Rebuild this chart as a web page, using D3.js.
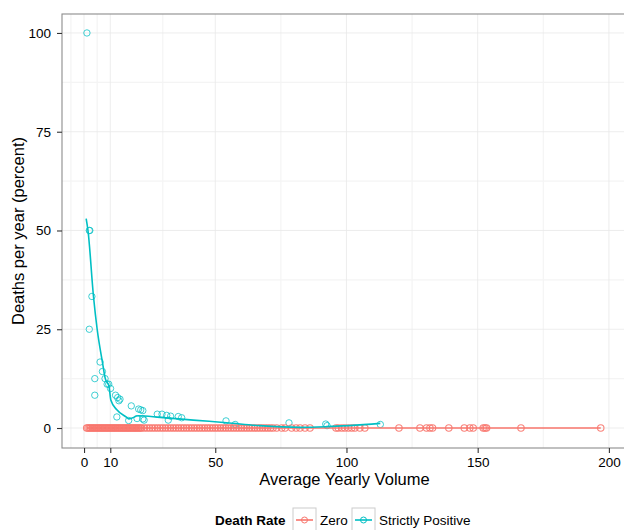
<!DOCTYPE html>
<html>
<head>
<meta charset="utf-8">
<script src="https://cdn.jsdelivr.net/npm/d3@7"></script>
<style>
  body { margin: 0; background: #fff; }
  svg { display: block; font-family: "Liberation Sans", Arial, sans-serif; }
</style>
</head>
<body>
<div id="chart"></div>
<script>
// data
var zeroVolume = [1, 1.5, 2, 2.5, 3, 3.5, 4, 4.5, 5, 5.5, 6, 6.5, 7, 7.5, 8, 8.5, 9, 9.5, 10, 10.5,
    11, 11.5, 12, 12.5, 13, 13.5, 14, 14.5, 15, 15.5, 16, 16.5, 17, 17.5, 18, 18.5, 19, 19.5, 20, 20.5,
    21, 21.5, 22, 23, 24, 25, 26, 27, 28, 29, 30, 31, 32, 33, 34, 35, 36, 37, 38, 39, 40, 41, 42, 43,
    44, 45, 46, 47, 48, 49, 50, 51, 52, 53, 54, 55, 56, 57, 58, 59, 60, 61, 62, 63, 64, 65, 66, 67, 68,
    69, 70, 71, 72, 73.4, 75.3, 76.6, 79.1, 80.8, 82.3, 84.2, 86.1, 96, 96.9, 98.2, 99.4, 100.7, 102,
    103.2, 105.1, 107, 120, 128, 130.5, 131.8, 132.8, 139, 144.9, 147, 148.3, 152.1, 152.8, 153.4,
    166.5, 196.9];
var zeroRate = zeroVolume.map(function () { return 0; });

var posVolume = [1.1, 2.2, 2.0, 3.0, 2.0, 6.1, 7.0, 4.1, 8.0, 8.8, 9.4, 10.1, 4.1, 12.0, 12.8, 13.3, 13.7,
    12.5, 18.0, 17.0, 20.8, 21.6, 22.4, 20.2, 22.4, 22.9, 27.9, 29.7, 32.1, 31.5, 33.0, 35.9, 37.2, 54.1,
    57.6, 78.1, 92.1, 92.6, 112.9];
var posRate = [100, 50, 50, 33.3, 25, 16.7, 14.3, 12.5, 12.5, 11.1, 11.1, 10, 8.3, 8.3, 7.7, 6.9, 7.3,
    2.8, 5.6, 1.9, 4.8, 4.6, 4.4, 2.4, 2.3, 2.0, 3.5, 3.5, 2.0, 3.2, 3.0, 2.9, 2.6, 1.8,
    0.9, 1.3, 1.0, 0.6, 0.9];

var posSmoothX = [0.8, 1.5, 3.6, 5.0, 7.0, 8.1, 9.5, 10.2, 12.5, 16.3, 17.1, 20.7, 29, 41.6, 54.3, 67, 82.3, 92.4, 112.9];
var posSmoothY = [53, 50, 33.3, 25, 16.7, 12.5, 10.6, 7.1, 4.6, 2.7, 2.3, 3.1, 2.7, 2.0, 1.35, 0.6, 0.17, 0.34, 1.18];

var xTicks = [0, 10, 50, 100, 150, 200];
var xMinor = [-5, 5, 30, 75, 125, 175];
var yTicks = [0, 25, 50, 75, 100];
var yMinor = [12.5, 37.5, 62.5, 87.5];

var groups = ["Zero", "Strictly Positive"];
var colors = ["#F8766D", "#00BFC4"];

var width = 624, height = 530;
var panel = { left: 62, top: 14, right: 627, bottom: 448 };

var svg = d3.select("#chart").append("svg").attr("width", width).attr("height", height);

var x = d3.scaleLinear().domain([-8.4, 206.9]).range([panel.left, panel.right]);
var y = d3.scaleLinear().domain([-5.06, 104.8]).range([panel.bottom, panel.top]);

var color = d3.scaleOrdinal().domain(groups).range(colors);

// grid
var grid = svg.append("g");
grid.selectAll(".minx").data(xMinor).enter().append("line")
    .attr("x1", x).attr("x2", x).attr("y1", panel.top).attr("y2", panel.bottom)
    .attr("stroke", "#f4f4f4").attr("stroke-width", 1.2);
grid.selectAll(".miny").data(yMinor).enter().append("line")
    .attr("y1", y).attr("y2", y).attr("x1", panel.left).attr("x2", panel.right)
    .attr("stroke", "#f4f4f4").attr("stroke-width", 1.2);
grid.selectAll(".majx").data(xTicks).enter().append("line")
    .attr("x1", x).attr("x2", x).attr("y1", panel.top).attr("y2", panel.bottom)
    .attr("stroke", "#e8e8e8").attr("stroke-width", 0.8);
grid.selectAll(".majy").data(yTicks).enter().append("line")
    .attr("y1", y).attr("y2", y).attr("x1", panel.left).attr("x2", panel.right)
    .attr("stroke", "#e8e8e8").attr("stroke-width", 0.8);

// points
var posData = posVolume.map(function (v, i) { return { x: v, y: posRate[i] }; });
var zeroData = zeroVolume.map(function (v, i) { return { x: v, y: zeroRate[i] }; });

svg.append("g").selectAll("circle").data(posData).enter().append("circle")
    .attr("cx", function (d) { return x(d.x); })
    .attr("cy", function (d) { return y(d.y); })
    .attr("r", 3.2).attr("fill", "none")
    .attr("stroke", color("Strictly Positive")).attr("stroke-width", 1).attr("stroke-opacity", 0.75);

svg.append("g").selectAll("circle").data(zeroData).enter().append("circle")
    .attr("cx", function (d) { return x(d.x); })
    .attr("cy", function (d) { return y(d.y); })
    .attr("r", 3.2).attr("fill", "none")
    .attr("stroke", color("Zero")).attr("stroke-width", 1.1).attr("stroke-opacity", 0.9);

// smooth lines
var line = d3.line().x(function (d) { return x(d[0]); }).y(function (d) { return y(d[1]); });
var zeroExtent = d3.extent(zeroVolume);
svg.append("path")
    .datum([[zeroExtent[0], 0], [zeroExtent[1], 0]])
    .attr("d", line).attr("fill", "none")
    .attr("stroke", color("Zero")).attr("stroke-width", 1.6);
svg.append("path")
    .datum(posSmoothX.map(function (v, i) { return [v, posSmoothY[i]]; }))
    .attr("d", line.curve(d3.curveMonotoneX)).attr("fill", "none")
    .attr("stroke", color("Strictly Positive")).attr("stroke-width", 1.6);

// panel border
svg.append("rect")
    .attr("x", panel.left).attr("y", panel.top)
    .attr("width", panel.right - panel.left).attr("height", panel.bottom - panel.top)
    .attr("fill", "none").attr("stroke", "#8c8c8c").attr("stroke-width", 1.1);

// axes
var xAxis = d3.axisBottom(x).tickValues(xTicks).tickSize(5).tickPadding(4);
var gx = svg.append("g").attr("transform", "translate(0," + panel.bottom + ")").call(xAxis);
gx.select(".domain").remove();
gx.selectAll("line").attr("stroke", "#333").attr("stroke-width", 1.1);
gx.selectAll("text").attr("font-size", 13.5).attr("fill", "#000")
    .attr("font-family", "Liberation Sans, Arial, sans-serif");

var yAxis = d3.axisLeft(y).tickValues(yTicks).tickSize(5).tickPadding(6);
var gy = svg.append("g").attr("transform", "translate(" + panel.left + ",0)").call(yAxis);
gy.select(".domain").remove();
gy.selectAll("line").attr("stroke", "#333").attr("stroke-width", 1.1);
gy.selectAll("text").attr("font-size", 13.5).attr("fill", "#000")
    .attr("font-family", "Liberation Sans, Arial, sans-serif");

// titles
svg.append("text")
    .attr("x", (panel.left + panel.right) / 2).attr("y", 485)
    .attr("text-anchor", "middle").attr("font-size", 16.5)
    .text("Average Yearly Volume");
svg.append("text")
    .attr("transform", "translate(24," + (panel.top + panel.bottom) / 2 + ") rotate(-90)")
    .attr("text-anchor", "middle").attr("font-size", 16.5)
    .text("Deaths per year (percent)");

// legend
var legend = svg.append("g").attr("transform", "translate(0,520)");
legend.append("text").attr("x", 215).attr("y", 0).attr("dy", "0.35em")
    .attr("font-size", 13.5).attr("font-weight", "bold").text("Death Rate");

var keyX = [293, 352];
var key = legend.selectAll(".key").data(groups).enter().append("g")
    .attr("transform", function (d, i) { return "translate(" + keyX[i] + ",0)"; });
key.append("rect").attr("x", 0).attr("y", -12).attr("width", 23).attr("height", 23)
    .attr("fill", "#fff").attr("stroke", "#cccccc").attr("stroke-width", 1);
key.append("line").attr("x1", 3).attr("x2", 20).attr("y1", 0).attr("y2", 0)
    .attr("stroke", color).attr("stroke-width", 1.6);
key.append("circle").attr("cx", 11.5).attr("cy", 0).attr("r", 3)
    .attr("fill", "none").attr("stroke", color).attr("stroke-width", 1);
key.append("text").attr("x", 27).attr("y", 0).attr("dy", "0.35em")
    .attr("font-size", 13.5).text(function (d) { return d; });
</script>
</body>
</html>
